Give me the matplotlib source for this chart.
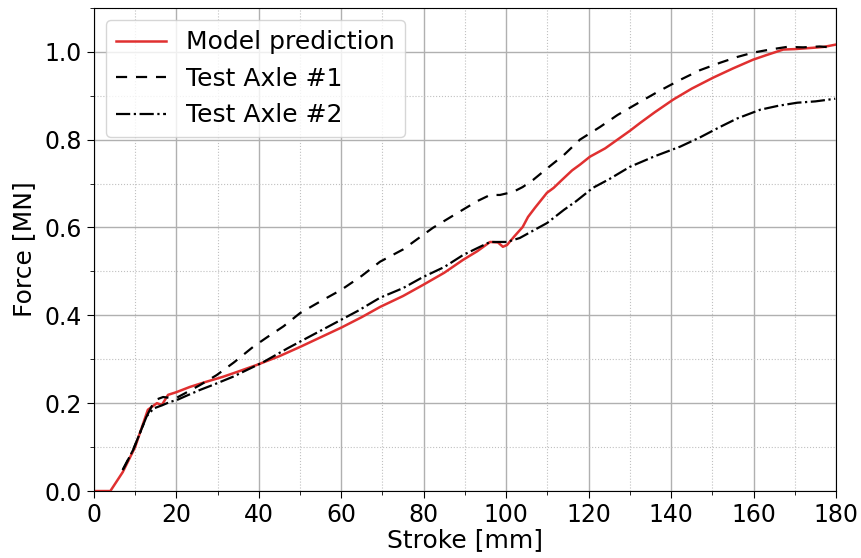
import matplotlib
matplotlib.use("Agg")
import matplotlib.pyplot as plt
from matplotlib.ticker import MultipleLocator

# Model prediction
model_x = [0, 4, 7, 10, 13.1, 15.3, 16.5, 18, 20, 23.3, 27, 31.3, 35, 39.5, 45, 50, 55, 60, 65, 69.4,
           75, 79.8, 85, 89.5, 93, 96.1, 98, 99.2, 100.2, 102, 104, 105.3, 107, 109.9, 111.5, 113.5,
           116, 117.9, 120.3, 124, 127.6, 130, 132.5, 136, 140.5, 145, 150.2, 155, 159.9, 163, 167.2,
           170, 174.4, 177, 179.8]
model_y = [0, 0, 0.043, 0.10, 0.185, 0.20, 0.196, 0.219, 0.225, 0.237, 0.248, 0.26, 0.272, 0.287, 0.307,
           0.328, 0.35, 0.372, 0.396, 0.419, 0.444, 0.469, 0.497, 0.526, 0.546, 0.567, 0.566, 0.556,
           0.56, 0.58, 0.601, 0.624, 0.645, 0.679, 0.69, 0.708, 0.73, 0.743, 0.761, 0.78, 0.804, 0.82,
           0.838, 0.862, 0.891, 0.916, 0.941, 0.962, 0.982, 0.992, 1.005, 1.006, 1.009, 1.011, 1.016]

# Test Axle #1
axle1_x = [7, 9.5, 12.8, 14.8, 16.8, 18.5, 20, 22, 25.7, 29.8, 34, 38.6, 42, 46, 50, 55, 60, 65, 69.4,
           75, 82.2, 88, 93, 96.1, 98.5, 101.7, 104, 106.5, 110, 114, 117.9, 122.8, 127, 132.5, 137,
           142.2, 147, 151.9, 156, 159.9, 164, 168.1, 172, 176, 179.8]
axle1_y = [0.048, 0.093, 0.17, 0.207, 0.214, 0.212, 0.212, 0.222, 0.241, 0.264, 0.293, 0.328, 0.35,
           0.375, 0.405, 0.432, 0.458, 0.49, 0.522, 0.55, 0.599, 0.632, 0.66, 0.674, 0.674, 0.681,
           0.692, 0.708, 0.735, 0.765, 0.80, 0.829, 0.856, 0.886, 0.91, 0.936, 0.958, 0.975, 0.988,
           0.998, 1.005, 1.011, 1.01, 1.012, 1.009]

# Test Axle #2
axle2_x = [7, 9.5, 12.8, 14.5, 16.5, 18.5, 20.1, 22, 25.7, 29, 33.7, 37, 41, 47, 52, 58, 64, 69.4,
           75, 79.8, 85, 89.5, 93, 96.1, 100.2, 103.3, 106, 109.9, 114, 117, 121, 125, 130, 136,
           142.2, 147, 151.9, 156, 161.6, 166, 170.6, 175, 179.8]
axle2_y = [0.048, 0.093, 0.17, 0.188, 0.195, 0.203, 0.207, 0.215, 0.23, 0.242, 0.26, 0.275, 0.293,
           0.325, 0.35, 0.38, 0.41, 0.44, 0.462, 0.487, 0.51, 0.537, 0.553, 0.567, 0.567, 0.576,
           0.59, 0.61, 0.64, 0.66, 0.69, 0.71, 0.738, 0.762, 0.784, 0.805, 0.829, 0.848, 0.868,
           0.877, 0.884, 0.887, 0.893]

x_ticks = [0, 20, 40, 60, 80, 100, 120, 140, 160, 180]
y_ticks = [0.0, 0.2, 0.4, 0.6, 0.8, 1.0]

plt.rcParams['font.family'] = ['DejaVu Sans']
fig = plt.figure(figsize=(8.61, 5.58), dpi=100)
ax = fig.add_axes([0.109, 0.120, 0.862, 0.866])

ax.plot(model_x, model_y, color='#e03030', lw=1.8, label='Model prediction')
ax.plot(axle1_x, axle1_y, color='black', lw=1.6, ls=(0, (5, 4)), label='Test Axle #1')
ax.plot(axle2_x, axle2_y, color='black', lw=1.6, ls='-.', label='Test Axle #2')

ax.set_xlim(0, 180)
ax.set_ylim(0, 1.1)
ax.set_xticks(x_ticks)
ax.set_yticks(y_ticks)
ax.xaxis.set_minor_locator(MultipleLocator(10))
ax.yaxis.set_minor_locator(MultipleLocator(0.1))
ax.grid(which='major', color='#b0b0b0', lw=1.0, ls='-')
ax.grid(which='minor', color='#c0c0c0', lw=0.8, ls=':')
ax.set_axisbelow(True)
ax.tick_params(which='major', labelsize=17, length=5)
ax.tick_params(which='minor', length=3)
ax.set_xlabel('Stroke [mm]', fontsize=18, labelpad=1)
ax.set_ylabel('Force [MN]', fontsize=18, labelpad=6)
ax.legend(loc='upper left', fontsize=18, handlelength=2.0)

fig.savefig('out.png', dpi=100)
